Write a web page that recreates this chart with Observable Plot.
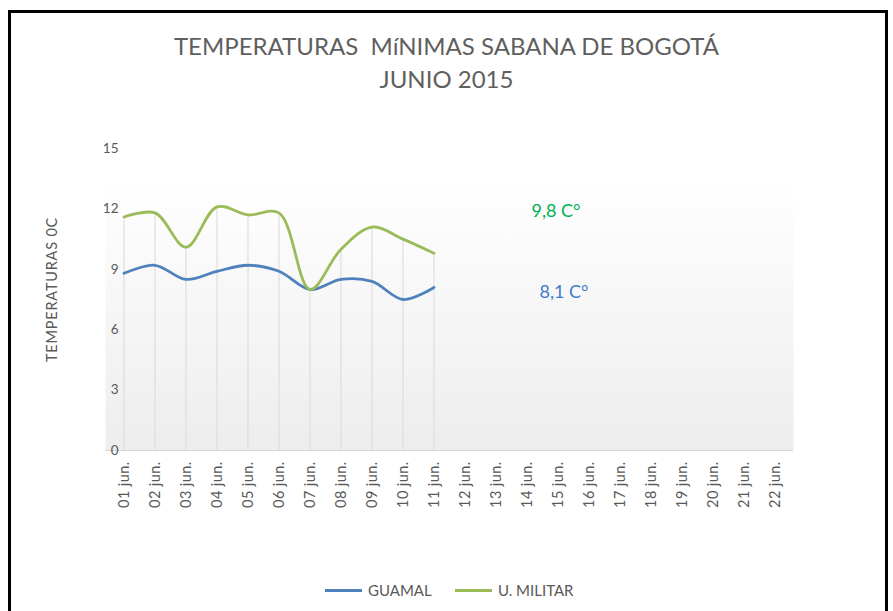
<!DOCTYPE html>
<html>
<head>
<meta charset="utf-8">
<script src="https://cdn.jsdelivr.net/npm/d3@7"></script>
<script src="https://cdn.jsdelivr.net/npm/@observablehq/plot@0.6"></script>
<style>
  html, body { margin: 0; padding: 0; background: #fff; overflow: hidden; }
  body { width: 893px; height: 611px; position: relative; font-family: Lato, "Open Sans", sans-serif; }
  #frame { position: absolute; left: 8px; top: 10px; width: 880px; height: 700px; border: 3px solid #000; box-sizing: border-box; }
  #title { position: absolute; left: 0; width: 893px; top: 29px; text-align: center; color: #5f5f5f; font-size: 24px; line-height: 33px; }
  #chart { position: absolute; left: 0; top: 0; }
  #legend { position: absolute; top: 580px; left: 0; width: 893px; height: 20px; font-size: 15px; color: #595959; }
  .lg { position: absolute; top: 0; display: flex; align-items: center; height: 20px; }
  .sw { display: inline-block; width: 37px; height: 3px; margin-right: 6px; }
  svg g[aria-label="x-axis tick label"] text { letter-spacing: 0.4px; }
  svg g[aria-label="text"] text.ylab { letter-spacing: 0.8px; }
</style>
</head>
<body>
<div id="frame"></div>
<div id="title">TEMPERATURAS&nbsp; MíNIMAS SABANA DE BOGOTÁ<br>JUNIO 2015</div>
<div id="chart"></div>
<div id="legend"></div>
<script>
const days = ["01 jun.","02 jun.","03 jun.","04 jun.","05 jun.","06 jun.","07 jun.","08 jun.","09 jun.","10 jun.","11 jun.",
  "12 jun.","13 jun.","14 jun.","15 jun.","16 jun.","17 jun.","18 jun.","19 jun.","20 jun.","21 jun.","22 jun."];
const guamal = [8.8, 9.2, 8.5, 8.9, 9.2, 8.9, 8.0, 8.5, 8.4, 7.5, 8.1];
const militar = [11.6, 11.8, 10.1, 12.1, 11.7, 11.8, 8.0, 10.0, 11.1, 10.5, 9.8];
const seriesNames = ["GUAMAL", "U. MILITAR"];
const seriesColors = ["#4f81bd", "#9bbb59"];
const labelColors = ["#3d7cc9", "#00b050"];
const yTicks = [0, 3, 6, 9, 12, 15];

const rows = [];
guamal.forEach((v, i) => rows.push({day: days[i], value: v, serie: seriesNames[0]}));
militar.forEach((v, i) => rows.push({day: days[i], value: v, serie: seriesNames[1]}));
const drops = guamal.map((v, i) => ({day: days[i], top: Math.max(v, militar[i])}));
const fmt = v => v.toFixed(1).replace(".", ",") + " C°";
const notes = [
  {label: fmt(militar[militar.length - 1]), color: labelColors[1], y: 11.9, dx: -2},
  {label: fmt(guamal[guamal.length - 1]), color: labelColors[0], y: 7.85, dx: 6}
];

const plot = Plot.plot({
  width: 893,
  height: 611,
  marginTop: 148,
  marginBottom: 161,
  marginLeft: 105,
  marginRight: 100,
  style: {fontFamily: "Lato, 'Open Sans', sans-serif", color: "#595959", background: "transparent"},
  x: {type: "band", domain: days, padding: 0, label: null},
  y: {domain: [0, 15], label: null},
  color: {domain: seriesNames, range: seriesColors},
  marks: [
    Plot.frame({fill: "url(#bg)", stroke: "none"}),
    Plot.ruleX(drops, {x: "day", y1: 0, y2: "top", stroke: "#d9d9d9", strokeWidth: 1}),
    Plot.ruleY([0], {stroke: "#d9d9d9", strokeWidth: 1.2}),
    Plot.line(rows, {x: "day", y: "value", z: "serie", stroke: "serie", strokeWidth: 2.8, curve: "catmull-rom"}),
    Plot.axisY({ticks: yTicks, tickSize: 0, tickPadding: -13, fontSize: 13.5, label: null}),
    Plot.axisX({tickSize: 0, tickRotate: -90, tickPadding: 11, fontSize: 14.5, label: null}),
    Plot.text(["TEMPERATURAS 0C"], {frameAnchor: "middle", dx: -397, dy: -10, rotate: -90, fontSize: 14.5, fill: "#595959", className: "ylabmark"}),
    ...notes.map(n => Plot.text([n], {x: () => "15 jun.", y: "y", text: "label", dx: n.dx, fill: n.color, fontSize: 18}))
  ]
});

const svg = d3.select(plot);
const defs = svg.insert("defs", ":first-child");
const g = defs.append("linearGradient").attr("id", "bg").attr("x1", 0).attr("y1", 0).attr("x2", 0).attr("y2", 1);
g.append("stop").attr("offset", "0.1").attr("stop-color", "#ffffff");
g.append("stop").attr("offset", "1").attr("stop-color", "#ededed");
svg.selectAll(".ylabmark text").style("letter-spacing", "0.8px");
document.getElementById("chart").appendChild(plot);

const legend = document.getElementById("legend");
const lpos = [325, 455];
seriesNames.forEach((name, i) => {
  const d = document.createElement("div");
  d.className = "lg";
  d.style.left = lpos[i] + "px";
  d.innerHTML = `<span class="sw" style="background:${seriesColors[i]}"></span><span>${name}</span>`;
  legend.appendChild(d);
});
</script>
</body>
</html>
